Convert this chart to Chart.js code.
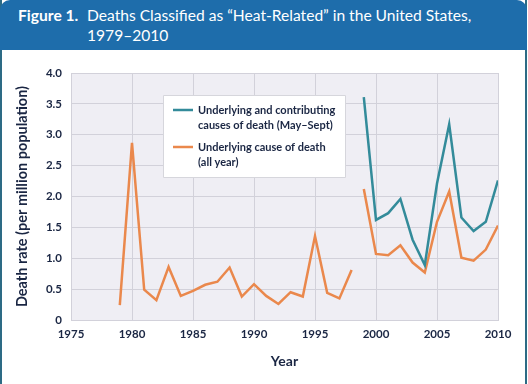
<!DOCTYPE html>
<html>
<head>
<meta charset="utf-8">
<script src="https://cdn.jsdelivr.net/npm/chart.js@4.4.1/dist/chart.umd.min.js"></script>
<style>
  body { margin: 0; background: #fff; }
  #wrap { position: relative; width: 528px; height: 384px; overflow: hidden; background: #fff; }
  #chart { position: absolute; left: 0; top: 0; }
  #edgeL { position: absolute; left: 0; top: 0; width: 2px; height: 384px; background: #2d6b85; }
  #edgeR { position: absolute; left: 525px; top: 0; width: 2px; height: 384px; background: #2d6b85; }
  #header {
    position: absolute; left: 0; top: 0; width: 527px; height: 50px;
    background: #1e6dab; border-radius: 10px 10px 0 0;
    color: #fff; font-family: Lato, "Open Sans", sans-serif; font-size: 15.6px; line-height: 20px;
  }
  #header .fig { position: absolute; left: 18px; top: 5px; font-weight: bold; }
  #header .txt { position: absolute; left: 87px; top: 5px; width: 420px; }
</style>
</head>
<body>
<div id="wrap">
  <canvas id="chart" width="528" height="384"></canvas>
  <div id="edgeL"></div>
  <div id="edgeR"></div>
  <div id="header">
    <span class="fig">Figure 1.</span>
    <span class="txt">Deaths Classified as “Heat-Related” in the United States,<br>1979–2010</span>
  </div>
</div>
<script>
// years on the x axis
var years = [1979, 1980, 1981, 1982, 1983, 1984, 1985, 1986, 1987, 1988,
             1989, 1990, 1991, 1992, 1993, 1994, 1995, 1996, 1997, 1998,
             1999, 2000, 2001, 2002, 2003, 2004, 2005, 2006, 2007, 2008, 2009, 2010];
// underlying cause of death (all year), deaths per million
var underlying = [0.24, 2.87, 0.49, 0.32, 0.86, 0.39, 0.47, 0.57, 0.62, 0.85,
                  0.38, 0.58, 0.39, 0.26, 0.45, 0.38, 1.36, 0.44, 0.35, 0.81,
                  2.12, 1.07, 1.05, 1.21, 0.93, 0.77, 1.59, 2.08, 1.01, 0.96, 1.14, 1.53];
// underlying and contributing causes (May-Sept), only from 1999
var contribYears = [1999, 2000, 2001, 2002, 2003, 2004, 2005, 2006, 2007, 2008, 2009, 2010];
var contributing = [3.61, 1.62, 1.73, 1.96, 1.30, 0.89, 2.21, 3.17, 1.66, 1.44, 1.59, 2.26];
// series break: the method changed after 1998
var breakYear = 1998;

var xTicks = [1975, 1980, 1985, 1990, 1995, 2000, 2005, 2010];
var yTicks = [0, 0.5, 1.0, 1.5, 2.0, 2.5, 3.0, 3.5, 4.0];

var labelContrib = ["Underlying and contributing", "causes of death (May–Sept)"];
var labelUnder = ["Underlying cause of death", "(all year)"];

var textColor = "#1a2643";
var fontFam = "Lato, 'Open Sans', sans-serif";

function toPoints(xs, ys) {
    var pts = [];
    for (var i = 0; i < xs.length; i++) pts.push({x: xs[i], y: ys[i]});
    return pts;
}

// light plot background
var plotBg = {
    id: "plotBg",
    beforeDraw: function(chart) {
        var a = chart.chartArea, c = chart.ctx;
        c.save();
        c.fillStyle = "#efeef4";
        c.fillRect(a.left, a.top, a.right - a.left, a.bottom - a.top);
        c.restore();
    }
};

// legend box sitting inside the plot
var boxLegend = {
    id: "boxLegend",
    afterDatasetsDraw: function(chart) {
        var a = chart.chartArea, c = chart.ctx;
        var x = a.left + 92, y = a.top + 22, w = 182, h = 82;
        c.save();
        c.fillStyle = "#fff";
        c.strokeStyle = "#d6d6dc";
        c.lineWidth = 1;
        c.beginPath();
        c.rect(x + 0.5, y + 0.5, w, h);
        c.fill();
        c.stroke();
        c.font = "bold 11px " + fontFam;
        c.textBaseline = "middle";
        var ds = chart.data.datasets;
        var rowsY = [y + 15, y + 52];
        for (var i = 0; i < ds.length; i++) {
            c.strokeStyle = ds[i].borderColor;
            c.lineWidth = 2.5;
            c.beginPath();
            c.moveTo(x + 10, rowsY[i]);
            c.lineTo(x + 30, rowsY[i]);
            c.stroke();
            c.fillStyle = textColor;
            for (var j = 0; j < ds[i].label.length; j++) {
                c.fillText(ds[i].label[j], x + 35, rowsY[i] + j * 15);
            }
        }
        c.restore();
    }
};

var ctx = document.getElementById("chart");
var heatChart = new Chart(ctx, {
    type: "line",
    data: {
        datasets: [
            {
                label: labelContrib,
                data: toPoints(contribYears, contributing),
                borderColor: "#338b9a",
                borderWidth: 2.5,
                pointRadius: 0,
                tension: 0,
                fill: false
            },
            {
                label: labelUnder,
                data: toPoints(years, underlying),
                borderColor: "#ea884c",
                borderWidth: 2.5,
                pointRadius: 0,
                tension: 0,
                fill: false,
                segment: {
                    borderColor: function(s) { return s.p0.parsed.x === breakYear ? "rgba(0,0,0,0)" : undefined; }
                }
            }
        ]
    },
    options: {
        responsive: false,
        animation: false,
        layout: { padding: { left: 0, right: 30, top: 73, bottom: 0 } },
        plugins: { legend: { display: false }, tooltip: { enabled: false } },
        scales: {
            x: {
                type: "linear",
                min: 1975,
                max: 2010,
                afterFit: function(s) { s.height = 64; },
                afterBuildTicks: function(s) { s.ticks = xTicks.map(function(v) { return {value: v}; }); },
                grid: { color: "#d2d1da", lineWidth: 1, drawTicks: false },
                border: { color: "#d2d1da" },
                ticks: {
                    padding: 7,
                    color: textColor,
                    font: { family: fontFam, size: 11.5, weight: "bold" },
                    callback: function(v) { return String(v); }
                },
                title: {
                    display: true,
                    text: "Year",
                    color: textColor,
                    font: { family: fontFam, size: 14, weight: "bold" },
                    padding: { top: 0, bottom: 14 }
                }
            },
            y: {
                min: 0,
                max: 4,
                afterFit: function(s) { s.width = 71; },
                afterBuildTicks: function(s) { s.ticks = yTicks.map(function(v) { return {value: v}; }); },
                grid: { color: "#d2d1da", lineWidth: 1, drawTicks: false },
                border: { color: "#d2d1da" },
                ticks: {
                    padding: 9,
                    color: textColor,
                    font: { family: fontFam, size: 11.5, weight: "bold" },
                    callback: function(v) { return v === 0 ? "0" : v.toFixed(1); }
                },
                title: {
                    display: true,
                    text: "Death rate (per million population)",
                    color: textColor,
                    font: { family: fontFam, size: 14.5, weight: "bold" },
                    padding: { top: 14, bottom: 0 }
                }
            }
        }
    },
    plugins: [plotBg, boxLegend]
});
</script>
</body>
</html>
